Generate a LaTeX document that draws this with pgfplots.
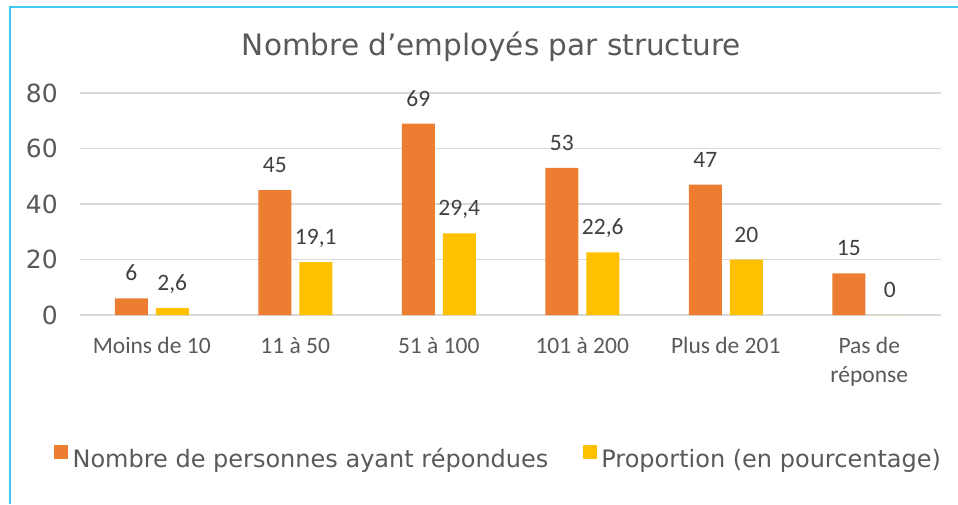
\documentclass[border=0pt]{standalone}
\usepackage{fontspec}
\setmainfont{DejaVu Sans}
\newfontfamily\carlito{Carlito}
\usepackage{pgfplots}
\pgfplotsset{compat=1.18}
\definecolor{corange}{HTML}{ED7D31}
\definecolor{cyellow}{HTML}{FFC000}
\definecolor{ctext}{HTML}{595959}
\definecolor{clabel}{HTML}{404040}
\definecolor{cgrid}{HTML}{D9D9D9}
\definecolor{cframe}{HTML}{3FC9F7}
\begin{document}
\begin{tikzpicture}
\fill[cframe] (9pt,-6pt) rectangle (958pt,-8.4pt);
\fill[cframe] (9pt,-6pt) rectangle (11.2pt,-504pt);
\begin{axis}[
 at={(80pt,-315pt)}, anchor=south west,
 scale only axis, width=861pt, height=222pt,
 clip=false,
 ybar=8pt, bar width=33pt,
 xmin=-0.5, xmax=5.5, ymin=0, ymax=80,
 xtick={0,...,5},
 xticklabels={Moins de 10, 11 à 50, 51 à 100, 101 à 200, Plus de 201, {Pas de\\réponse}},
 ytick={0,20,40,60,80},
 axis line style={draw=none},
 major tick length=0pt,
 ymajorgrids, grid style={cgrid, line width=1.5pt},
 /pgf/number format/assume math mode=true,
 /pgf/number format/use comma,
 xticklabel style={font=\carlito\fontsize{23.5}{28.5}\selectfont, text=ctext, inner sep=0pt, anchor=north, align=center, yshift=-22pt},
 yticklabel style={font=\rmfamily\fontsize{25}{30}\selectfont, text=ctext, inner sep=0pt, xshift=-22pt},
 nodes near coords,
 every node near coord/.append style={font=\carlito\fontsize{23.5}{28}\selectfont, text=clabel, anchor=base, yshift=17.5pt},
 legend image code/.code={\fill[#1] (0pt,0pt) rectangle (14pt,14pt);},
 legend style={draw=none, fill=none, inner sep=0pt, outer sep=0pt, legend columns=2,
   at={(axis description cs:0,0)}, anchor=north west, xshift=-26pt, yshift=-130pt,
   font=\fontsize{24}{29}\selectfont, text=ctext, nodes={inner sep=0pt},
   /tikz/every odd column/.append style={column sep=4.6pt},
   /tikz/every even column/.append style={column sep=34.4pt}},
]
\addplot[fill=corange, draw=none] coordinates {(0,6) (1,45) (2,69) (3,53) (4,47) (5,15)};
\addplot[fill=cyellow, draw=none] coordinates {(0,2.6) (1,19.1) (2,29.4) (3,22.6) (4,20) (5,0)};
\legend{Nombre de personnes ayant répondues, Proportion (en pourcentage)}
\end{axis}
\node[anchor=base, font=\fontsize{29.5}{35}\selectfont, text=ctext] at (491.5pt,-55pt) {Nombre d’employés par structure};
\pgfresetboundingbox
\useasboundingbox (0pt,0pt) rectangle (958pt,-504pt);
\end{tikzpicture}
\end{document}
